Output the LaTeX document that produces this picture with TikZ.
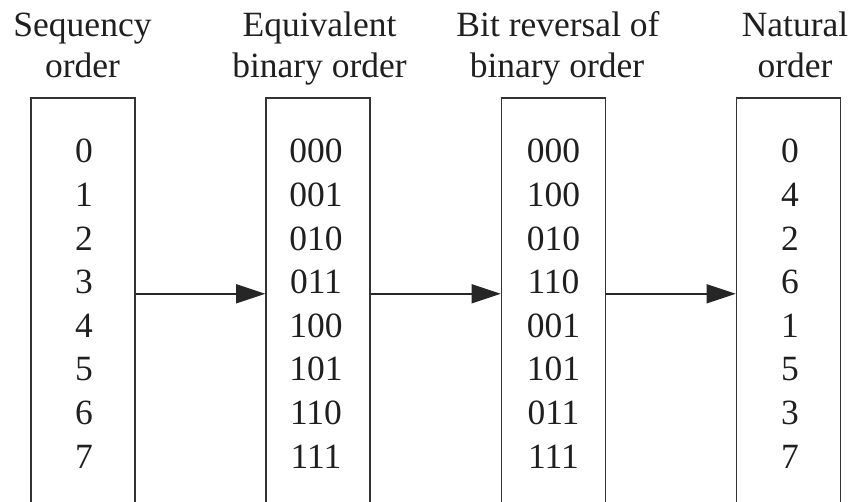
\documentclass[tikz,border=0pt]{standalone}
\usepackage{fontspec}
\setmainfont{Liberation Serif}
\usetikzlibrary{arrows.meta}
\begin{document}
\begin{tikzpicture}[x=1pt,y=1pt,
  ink/.style={black!88},
  txt/.style={ink, font=\fontsize{35.5}{42}\selectfont, inner sep=0pt, anchor=base},
  column/.style={draw=black!80, line width=1.6pt, minimum width=104pt, minimum height=430pt, inner sep=0pt},
  flow/.style={draw=black!85, line width=1.6pt, -{Triangle[length=29pt,width=19pt]}}]
\useasboundingbox (0,0) rectangle (856,502);
\clip (0,0) rectangle (856,502);

% the four columns, open at the bottom edge
\node[column] (box1) at (83,189) {};
\node[column] (box2) at (318,189) {};
\node[column] (box3) at (553.5,189) {};
\node[column] (box4) at (788.5,189) {};

% headings
\node[txt] (h1a) at (82.5,465) {Sequency};
\node[txt] (h1b) at (82.5,424) {order};
\node[txt] (h2a) at (319.5,465) {Equivalent};
\node[txt] (h2b) at (319.5,424) {binary order};
\node[txt] (h3a) at (558,465) {Bit reversal of};
\node[txt] (h3b) at (557,424) {binary order};
\node[txt] (h4a) at (795,465) {Natural};
\node[txt] (h4b) at (795,424) {order};

% entries of each column
\foreach \a/\b/\c/\d [count=\i from 0] in
  {0/000/000/0, 1/001/100/4, 2/010/010/2, 3/011/110/6,
   4/100/001/1, 5/101/101/5, 6/110/011/3, 7/111/111/7} {
  \node[txt] (a\i) at (84,{339-43.6*\i}) {\a};
  \node[txt] (b\i) at (316,{339-43.6*\i}) {\b};
  \node[txt] (c\i) at (553.5,{339-43.6*\i}) {\c};
  \node[txt] (d\i) at (790,{339-43.6*\i}) {\d};
}

% mapping arrows
\draw[flow] (box1.east |- a3.base) -- (box2.west |- a3.base);
\draw[flow] (box2.east |- a3.base) -- (box3.west |- a3.base);
\draw[flow] (box3.east |- a3.base) -- (box4.west |- a3.base);
\end{tikzpicture}
\end{document}
